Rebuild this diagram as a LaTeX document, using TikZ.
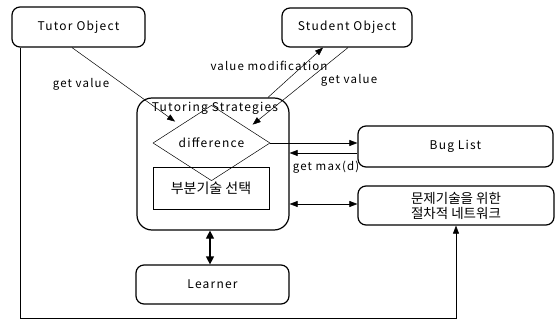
\documentclass[tikz,border=0pt]{standalone}
\usepackage{fontspec}
\setmainfont{Noto Sans CJK KR}[LetterSpace=10]
\newfontfamily\kofont{Noto Sans CJK KR}
\usetikzlibrary{shapes.geometric,arrows.meta,calc}
\begin{document}
\begin{tikzpicture}[x=1pt,y=-1pt,
  box/.style={draw,line width=1.2pt,rounded corners=8pt,inner sep=0pt,font=\fontsize{12}{14}\selectfont},
  lbl/.style={font=\fontsize{11.5}{13}\selectfont,inner sep=0pt},
  arr/.style={line width=0.5pt,-{Triangle[length=8pt,width=6pt]}},
  darr/.style={line width=0.5pt,{Triangle[length=8pt,width=6pt]}-{Triangle[length=8pt,width=6pt]}},
  tharr/.style={line width=1.2pt,{Triangle[length=8pt,width=8pt]}-{Triangle[length=8pt,width=8pt]}}]
\useasboundingbox[fill=white] (0,0) rectangle (557,321);
% nodes
\node[box,minimum width=133pt,minimum height=40pt] (tutor) at (78.5,27) {Tutor Object};
\node[box,minimum width=130pt,minimum height=39pt] (student) at (347,27.5) {Student Object};
\node[box,rounded corners=15pt,minimum width=152pt,minimum height=132pt] (ts) at (213,164) {};
\node[lbl,font=\fontsize{12}{14}\selectfont] (tstitle) at (215,108) {Tutoring Strategies};
\node[draw,diamond,line width=0.5pt,inner sep=0pt,minimum width=117pt,minimum height=36pt,font=\fontsize{12}{14}\selectfont] (diff) at (211.5,143) {difference};
\node[draw,line width=0.5pt,minimum width=116pt,minimum height=42pt,inner sep=0pt,font=\kofont\fontsize{14}{15}\selectfont] (sub) at (211,188) {부분기술 선택};
\node[box,minimum width=153pt,minimum height=39pt] (learner) at (212.5,284.5) {Learner};
\node[box,minimum width=195pt,minimum height=41pt] (bug) at (455.5,146.5) {Bug List};
\node[box,minimum width=196pt,minimum height=39pt,align=center,font=\kofont\fontsize{13.5}{15}\selectfont] (net) at (456,205.5) {문제기술을 위한\\절차적 네트워크};
% labels
\node[lbl] (gv1) at (81,84) {get value};
\node[lbl] (vm) at (269,66) {value modification};
\node[lbl] (gv2) at (349,80) {get value};
\node[lbl] (gm) at (326,167) {get max(d)};
% connectors
\draw[arr] ([xshift=-6.5pt]tutor.south) -- ([yshift=7pt]$(diff.west)!0.38!(diff.north)$);
\draw[arr] ([xshift=1pt]student.south) -- ([yshift=7pt]$(diff.north)!0.7!(diff.east)$);
\draw[arr] ([xshift=55pt]ts.north) -- ([xshift=-24pt]student.south);
\draw[arr] (diff.east) -- (diff.east -| bug.west);
\draw[arr] ([yshift=-6.5pt]bug.west) -- ([yshift=-6.5pt]bug.west -| ts.east);
\draw[darr] ([yshift=1.5pt]net.west) -- ([yshift=1.5pt]net.west -| ts.east);
\draw[tharr] ([xshift=-3pt]ts.south) -- ([xshift=-3pt]ts.south |- learner.north);
\coordinate (fb) at (0,318);
\draw[arr] ([xshift=9pt]tutor.south west) |- (fb -| net.south) -- (net.south);
\end{tikzpicture}
\end{document}
